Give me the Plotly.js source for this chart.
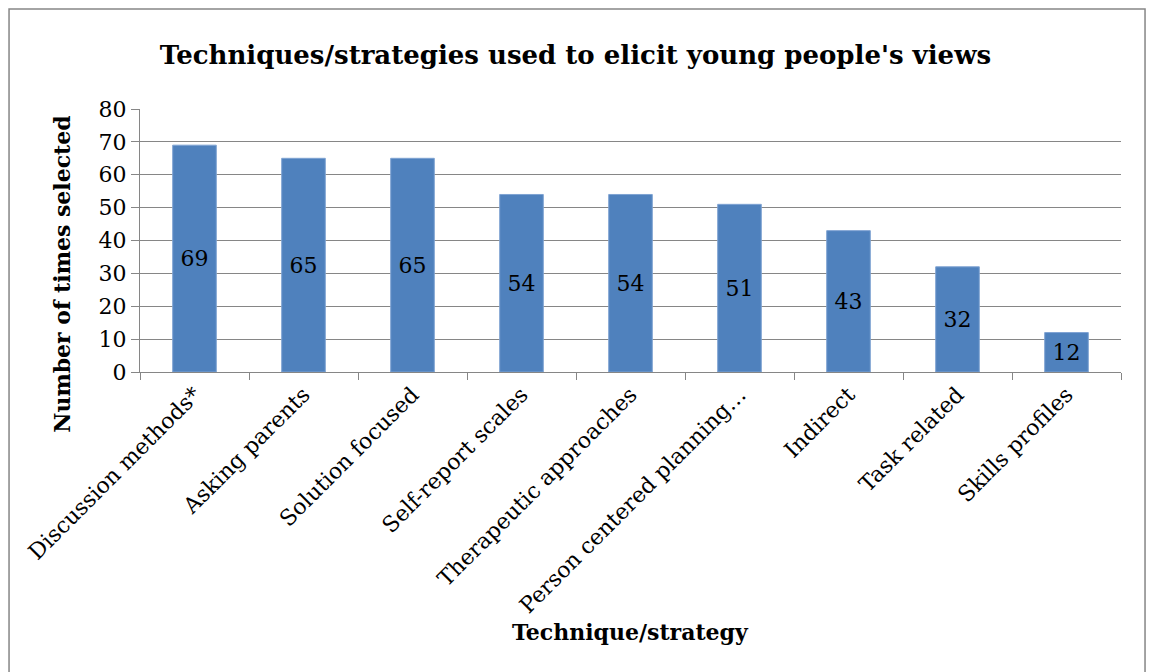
<!DOCTYPE html>
<html>
<head>
<meta charset="utf-8">
<script src="https://cdn.plot.ly/plotly-3.0.1.min.js"></script>
<style>html,body{margin:0;padding:0;background:#fff;}#chart{width:1151px;height:672px;}</style>
</head>
<body>
<div id="chart"></div>
<script>
var categories = ["Discussion methods*", "Asking parents", "Solution focused", "Self-report scales", "Therapeutic approaches", "Person centered planning…", "Indirect", "Task related", "Skills profiles"];
var values = [69, 65, 65, 54, 54, 51, 43, 32, 12];
var yTicks = [0, 10, 20, 30, 40, 50, 60, 70, 80];

var font = "DejaVu Serif, serif";

var trace = {
  type: "bar",
  x: categories,
  y: values,
  text: values.map(String),
  textposition: "inside",
  insidetextanchor: "middle",
  textangle: 0,
  textfont: {family: font, size: 22, color: "#000"},
  marker: {color: "#4F81BD", line: {color: "#7FA3D3", width: 1}},
  hoverinfo: "x+y"
};

var layout = {
  width: 1151, height: 672,
  margin: {l: 140, r: 30, t: 109, b: 300},
  paper_bgcolor: "#fff", plot_bgcolor: "#fff",
  bargap: 0.6,
  showlegend: false,
  title: {text: "<b>Techniques/strategies used to elicit young people's views</b>", font: {family: font, size: 26, color: "#000"}, x: 0.5, xanchor: "center", y: 0.918, yanchor: "middle"},
  xaxis: {
    type: "category",
    tickangle: -45,
    tickfont: {family: font, size: 22, color: "#000"},
    showline: true, linecolor: "#868686", linewidth: 1,
    ticks: "outside", ticklen: 7, tickcolor: "#868686",
    tickson: "boundaries",
    showgrid: false,
    automargin: false
  },
  yaxis: {
    range: [0, 80],
    tickvals: yTicks,
    ticktext: yTicks.map(String),
    tickfont: {family: font, size: 22, color: "#000"},
    showline: true, linecolor: "#868686", linewidth: 1,
    ticks: "outside", ticklen: 8, tickcolor: "#868686",
    showgrid: true, gridcolor: "#868686", gridwidth: 1,
    zeroline: false,
    automargin: false
  },
  annotations: [
    {text: "<b>Technique/strategy</b>", xref: "paper", yref: "paper", x: 0.5, y: -0.9886, xanchor: "center", yanchor: "middle", showarrow: false, font: {family: font, size: 22, color: "#000"}},
    {text: "<b>Number of times selected</b>", xref: "paper", yref: "paper", x: -0.0795, y: 0.37, xanchor: "center", yanchor: "middle", textangle: -90, showarrow: false, font: {family: font, size: 22, color: "#000"}}
  ],
  shapes: [{
    type: "rect", xref: "paper", yref: "paper",
    x0: -0.1335, x1: 1.0245, y0: -1.3, y1: 1.38,
    line: {color: "#868686", width: 1.5}, fillcolor: "rgba(0,0,0,0)", layer: "below"
  }]
};

Plotly.newPlot("chart", [trace], layout, {displayModeBar: false, staticPlot: true});
</script>
</body>
</html>
